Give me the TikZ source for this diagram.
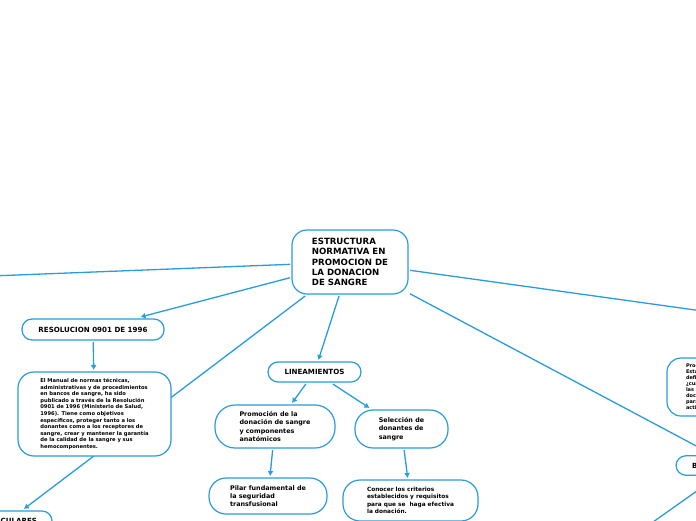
\documentclass[tikz,border=0pt]{standalone}
\usepackage{fontspec}
\setmainfont{DejaVu Sans}
\usepackage{tikz}
\usetikzlibrary{arrows.meta, positioning, backgrounds}
\definecolor{mapblue}{RGB}{40,156,222}

\begin{document}
\begin{tikzpicture}[
  x=1pt, y=-1pt,
  every node/.style={align=left},
  topic/.style={
    rectangle, draw=mapblue, line width=1.2pt, fill=white,
    text=black, outer sep=2pt
  },
  maintxt/.style={font=\fontsize{8.6}{10.3}\selectfont\bfseries},
  capstxt/.style={font=\fontsize{7.1}{8.5}\selectfont\bfseries},
  subtxt/.style={font=\fontsize{6.4}{8.3}\selectfont\bfseries},
  smalltxt/.style={font=\fontsize{5.8}{7.4}\selectfont\bfseries},
  tinytxt/.style={font=\fontsize{5.2}{6.6}\selectfont\bfseries},
  edgetxt/.style={font=\fontsize{5}{6}\selectfont\bfseries},
  link/.style={draw=mapblue, line width=1.3pt, -{Latex[length=5pt,width=6pt]}}
]
\useasboundingbox (0,0) rectangle (696,520);
\clip (0,0) rectangle (696,520);

\node[topic, maintxt, rounded corners=15pt, minimum width=116pt, minimum height=64pt] (core) at (350,262)
  {ESTRUCTURA\\NORMATIVA EN\\PROMOCION DE\\LA DONACION\\DE SANGRE};

\node[topic, capstxt, rounded corners=10pt, minimum width=142pt, minimum height=21pt, align=center] (reso) at (93,329.5)
  {RESOLUCION 0901 DE 1996};
\node[topic, tinytxt, rounded corners=16pt, minimum width=153pt, minimum height=84pt] (manual) at (94.5,414)
  {El Manual de normas técnicas,\\administrativas y de procedimientos\\en bancos de sangre, ha sido\\publicado a través de la Resolución\\0901 de 1996 (Ministerio de Salud,\\1996). Tiene como objetivos\\específicos, proteger tanto a los\\donantes como a los receptores de\\sangre, crear y mantener la garantía\\de la calidad de la sangre y sus\\hemocomponentes.};

\node[topic, capstxt, rounded corners=10pt, minimum width=93pt, minimum height=20pt, align=center] (linea) at (314.5,372)
  {LINEAMIENTOS};
\node[topic, subtxt, rounded corners=20pt, minimum width=120pt, minimum height=43pt] (promo) at (275,426.5)
  {Promoción de la\\donación de sangre\\y componentes\\anatómicos};
\node[topic, subtxt, rounded corners=18pt, minimum width=93pt, minimum height=38pt] (selec) at (401.5,429)
  {Selección de\\donantes de\\sangre};
\node[topic, subtxt, rounded corners=17pt, minimum width=118pt, minimum height=36pt] (pilar) at (268,496)
  {Pilar fundamental de\\la seguridad\\transfusional};
\node[topic, smalltxt, rounded corners=17pt, minimum width=135pt, minimum height=41pt] (conoce) at (410.5,500.5)
  {Conocer los criterios\\establecidos y requisitos\\para que se\ \ haga efectiva\\la donación.};

% nodes cut by the edge of the page
\node[topic, capstxt, rounded corners=10pt, minimum height=20pt, inner xsep=15pt, text width=58pt, align=right] (cul) at (8,521)
  {CULARES};
\node[topic, edgetxt, rounded corners=14pt, minimum height=58pt, inner xsep=19pt, anchor=north west] (proc) at (665,356)
  {Proc\\Está\\defin\\¿cuál\\las c\\docu\\para\\activ};
\node[topic, capstxt, rounded corners=10pt, minimum height=19.5pt, inner xsep=16pt, text width=82pt] (bnode) at (733,465.5)
  {B};

\coordinate (offW) at (-60,278);
\coordinate (offE) at (760,319);
\coordinate (offSW) at (619,546);

\begin{scope}[on background layer]
\draw[link] (core) -- (offW);
\draw[link] (core) -- (reso);
\draw[link] (reso) -- (manual);
\draw[link] (core) -- (cul);
\draw[link] (core) -- (linea);
\draw[link] (linea) -- (promo);
\draw[link] (linea) -- (selec);
\draw[link] (promo) -- (pilar);
\draw[link] (selec) -- (conoce);
\draw[link] (core) -- (offE);
\draw[link] (core) -- (bnode);
\draw[link] (bnode) -- (offSW);
\end{scope}
\end{tikzpicture}
\end{document}
